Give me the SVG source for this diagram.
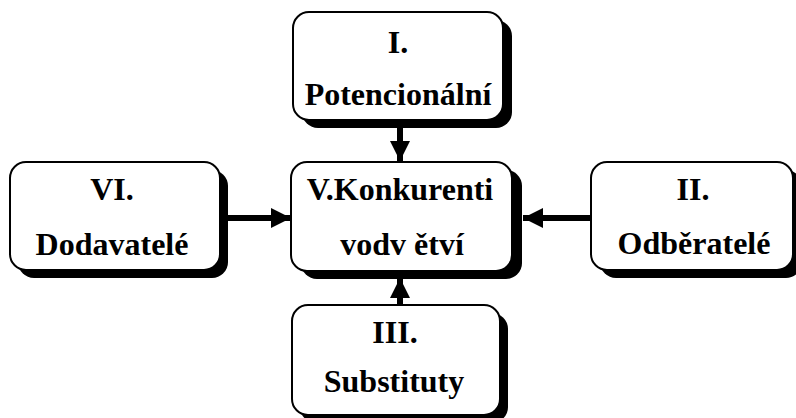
<svg xmlns="http://www.w3.org/2000/svg" width="796" height="418" viewBox="0 0 796 418">
<style>
.box{fill:#fff;stroke:#000;stroke-width:2}
.sh{fill:#000}
.t{font-family:"Liberation Serif","Times New Roman",serif;font-weight:bold;font-size:32px;fill:#000;text-anchor:middle}
.c{stroke:#000;stroke-width:6;fill:none}
</style>
<defs>
<marker id="ah" markerUnits="userSpaceOnUse" markerWidth="20" markerHeight="20" viewBox="0 0 20 20" refX="20" refY="10" orient="auto">
<path d="M0,0 L20,10 L0,20 Z" fill="#000"/>
</marker>
</defs>
<rect width="796" height="418" fill="#fff"/>
<g id="connectors">
<line class="c" x1="400" y1="126" x2="400" y2="161" marker-end="url(#ah)"/>
<line class="c" x1="400" y1="306" x2="400" y2="278" marker-end="url(#ah)"/>
<line class="c" x1="226" y1="218" x2="291" y2="218" marker-end="url(#ah)"/>
<line class="c" x1="592" y1="218" x2="523" y2="218" marker-end="url(#ah)"/>
</g>
<g id="node-top">
<rect class="sh" x="302" y="20" width="210" height="108" rx="16"/>
<rect class="box" x="293" y="12" width="210" height="108" rx="16"/>
<text class="t" x="398" y="53">I.</text>
<text class="t" x="398" y="105">Potencionální</text>
</g>
<g id="node-center">
<rect class="sh" x="301" y="170" width="221" height="109" rx="16"/>
<rect class="box" x="291" y="162" width="221" height="109" rx="16"/>
<text class="t" x="400" y="200">V.Konkurenti</text>
<text class="t" x="402" y="255">vodv ětví</text>
</g>
<g id="node-left">
<rect class="sh" x="18" y="170" width="210" height="108" rx="16"/>
<rect class="box" x="10" y="162" width="210" height="108" rx="16"/>
<text class="t" x="112" y="200">VI.</text>
<text class="t" x="112" y="255">Dodavatelé</text>
</g>
<g id="node-right">
<rect class="sh" x="600" y="170" width="202" height="108" rx="16"/>
<rect class="box" x="591" y="162" width="202" height="108" rx="16"/>
<text class="t" x="693" y="200">II.</text>
<text class="t" x="694" y="254">Odběratelé</text>
</g>
<g id="node-bottom">
<rect class="sh" x="300" y="313" width="208" height="110" rx="16"/>
<rect class="box" x="292" y="305" width="208" height="110" rx="16"/>
<text class="t" x="395" y="343">III.</text>
<text class="t" x="394" y="392">Substituty</text>
</g>
</svg>
